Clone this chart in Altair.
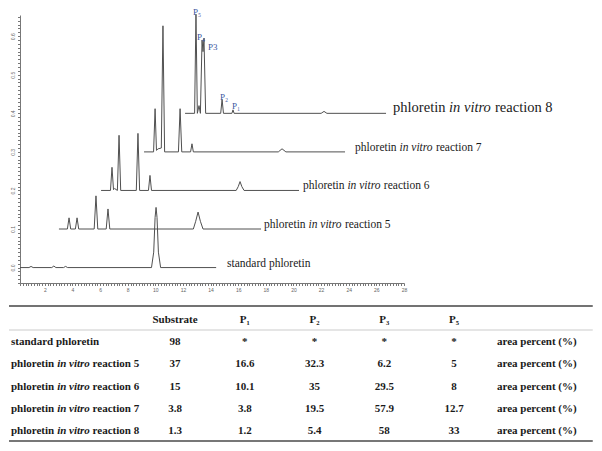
import altair as alt
import pandas as pd

# ---------------- chromatogram data (raw retention time [min], signal [AU]) -------------
trace_keys = ["std", "r5", "r6", "r7", "r8"]
x_offsets = [0, 3, 6, 9, 12]          # horizontal stacking offset (min)
y_offsets = [0.0, 0.1, 0.2, 0.3, 0.4]  # vertical stacking offset (AU)

std_t = [0.2, 0.85, 1.0, 1.15, 2.5, 2.65, 2.8, 3.35, 3.5, 3.65, 9.72, 9.88, 9.98, 10.05, 10.12, 10.22, 10.38, 14.4]
std_v = [0, 0, 0.003, 0, 0, 0.004, 0, 0, 0.003, 0, 0, 0.04, 0.13, 0.156, 0.13, 0.04, 0, 0]

r5_t = [0.02, 0.63, 0.75, 0.87, 1.21, 1.33, 1.45, 2.57, 2.70, 2.83, 3.44, 3.57, 3.70, 9.75, 9.92, 10.09, 10.26, 10.45, 14.65]
r5_v = [0, 0, 0.029, 0, 0, 0.029, 0, 0, 0.086, 0, 0, 0.052, 0, 0, 0.02, 0.044, 0.02, 0, 0]

r6_t = [0.07, 0.75, 0.86, 0.97, 1.05, 1.25, 1.37, 1.49, 2.62, 2.74, 2.86, 3.50, 3.61, 3.72, 9.85, 10.0, 10.13, 10.26, 10.42, 14.4]
r6_v = [0, 0, 0.06, 0.002, 0.005, 0, 0.143, 0, 0, 0.148, 0, 0, 0.039, 0, 0, 0.01, 0.023, 0.01, 0, 0]

r7_t = [0.18, 0.87, 0.98, 1.08, 1.2, 1.43, 1.55, 1.67, 2.67, 2.79, 2.91, 3.55, 3.65, 3.75, 9.9, 10.17, 10.45, 14.73]
r7_v = [0, 0, 0.112, 0.004, 0.008, 0.01, 0.327, 0, 0, 0.112, 0, 0, 0.021, 0, 0, 0.008, 0, 0]

r8_t = [0.15, 0.84, 0.94, 1.04, 1.16, 1.26, 1.38, 1.45, 1.52, 1.64, 2.73, 2.83, 2.93, 3.54, 3.62, 3.70, 10.0, 10.21, 10.42, 14.7]
r8_v = [0, 0, 0.257, 0.0, 0.02, 0.0, 0.19, 0.16, 0.195, 0, 0, 0.036, 0, 0, 0.009, 0, 0, 0.005, 0, 0]

trace_t = [std_t, r5_t, r6_t, r7_t, r8_t]
trace_v = [std_v, r5_v, r6_v, r7_v, r8_v]

# trace name labels (display retention-time where the label starts)
label_t = [15.19, 17.87, 20.69, 24.46, 27.21]
reaction_numbers = ["5", "6", "7", "8"]

# peak annotations on reaction 8
peak_names = ["P\u2085", "P\u2084", "P3", "P\u2082", "P\u2081"]
peak_t = [13.02, 13.31, 14.15, 14.97, 15.84]
peak_v = [0.662, 0.598, 0.572, 0.442, 0.419]

# ---------------- table data -------------
row_names = ["standard phloretin", "reaction 5", "reaction 6", "reaction 7", "reaction 8"]
col_headers = ["Substrate", "P\u2081", "P\u2082", "P\u2083", "P\u2085"]
substrate = ["98", "37", "15", "3.8", "1.3"]
p1 = ["*", "16.6", "10.1", "3.8", "1.2"]
p2 = ["*", "32.3", "35", "19.5", "5.4"]
p3 = ["*", "6.2", "29.5", "57.9", "58"]
p5 = ["*", "5", "8", "12.7", "33"]
unit_text = "area percent (%)"

# ---------------- build chromatogram -------------
rows = []
for k, dx, dy, ts, vs in zip(trace_keys, x_offsets, y_offsets, trace_t, trace_v):
    for t, v in zip(ts, vs):
        rows.append({"trace": k, "t": t + dx, "v": v + dy})
lines_df = pd.DataFrame(rows)

SERIF = "Liberation Serif"
x_scale = alt.Scale(domain=[0.2, 28], nice=False, zero=False)
y_scale = alt.Scale(domain=[-0.04, 0.655], nice=False, zero=False)
x_ticks = [round(0.2 * i, 1) for i in range(1, 141)]
y_ticks = [round(-0.04 + 0.01 * i, 2) for i in range(70)]

lines = alt.Chart(lines_df).mark_line(color="#505050", strokeWidth=1).encode(
    x=alt.X("t:Q", scale=x_scale, axis=alt.Axis(
        values=x_ticks, tickCount=400, title=None, grid=False, tickSize=2.5, tickWidth=1,
        tickColor="#777", domainColor="#777", domainWidth=1,
        labelExpr="abs(datum.value/2 - round(datum.value/2)) < 0.001 ? format(datum.value, 'd') : ''",
        labelFontSize=5, labelColor="#666", labelPadding=2, labelOverlap=False, labelFlush=False)),
    y=alt.Y("v:Q", scale=y_scale, axis=alt.Axis(
        values=y_ticks, tickCount=400, title=None, grid=False, tickSize=2.5, tickWidth=1,
        tickColor="#777", domainColor="#777", domainWidth=1,
        labelExpr="abs(datum.value*10 - round(datum.value*10)) < 0.001 ? format(datum.value, '.1f') : ''",
        labelFontSize=5, labelColor="#666", labelAngle=-90, labelAlign="center",
        labelBaseline="bottom", labelPadding=2, labelOverlap=False, labelFlush=False)),
    detail="trace:N",
)


def wid(em, size):
    return em / 1000.0 * size


# standard label
std_lab = alt.Chart(pd.DataFrame({"t": [label_t[0]], "v": [y_offsets[0]], "txt": ["standard phloretin"]})).mark_text(
    align="left", baseline="alphabetic", dy=-1, font=SERIF, fontSize=11.5, color="#1a1a1a"
).encode(x=alt.X("t:Q", scale=x_scale), y=alt.Y("v:Q", scale=y_scale), text="txt:N")


def reaction_labels(ts, vs, nums, size):
    df = pd.DataFrame({"t": ts, "v": vs, "r": ["reaction " + n for n in nums]})
    w1 = wid(3611 + 250, size)
    w2 = wid(2917 + 250, size)
    base = alt.Chart(df).encode(x=alt.X("t:Q", scale=x_scale), y=alt.Y("v:Q", scale=y_scale))
    a = base.mark_text(align="left", baseline="alphabetic", dy=-1, font=SERIF, fontSize=size,
                       color="#1a1a1a").encode(text=alt.value("phloretin"))
    b = base.mark_text(align="left", baseline="alphabetic", dy=-1, dx=w1, font=SERIF, fontSize=size,
                       fontStyle="italic", color="#1a1a1a").encode(text=alt.value("in vitro"))
    c = base.mark_text(align="left", baseline="alphabetic", dy=-1, dx=w1 + w2, font=SERIF, fontSize=size,
                       color="#1a1a1a").encode(text="r:N")
    return [a, b, c]


mid_labs = reaction_labels(label_t[1:4], y_offsets[1:4], reaction_numbers[:3], 11.5)
top_labs = reaction_labels(label_t[4:], y_offsets[4:], reaction_numbers[3:], 14.5)

peaks = alt.Chart(pd.DataFrame({"t": peak_t, "v": peak_v, "n": peak_names})).mark_text(
    align="center", baseline="middle", font=SERIF, fontSize=9, color="#3a55a0"
).encode(x=alt.X("t:Q", scale=x_scale), y=alt.Y("v:Q", scale=y_scale), text="n:N")

top = alt.layer(lines, std_lab, *mid_labs, *top_labs, peaks).properties(width=384, height=268)

# ---------------- build table -------------
row_keys = ["head", "s0", "s1", "s2", "s3", "s4"]
col_keys = ["name", "Substrate", "P1", "P2", "P3", "P5", "unit"]
tx_scale = alt.Scale(type="point", domain=col_keys, range=[85.25, 503.75], padding=0)
ty_scale = alt.Scale(type="point", domain=row_keys, range=[14, 125], padding=0)

cells = []
for ck, h in zip(col_keys[1:6], col_headers):
    cells.append({"row": "head", "col": ck, "txt": h})
for i, rk in enumerate(row_keys[1:]):
    for ck, vals in zip(col_keys[1:6], [substrate, p1, p2, p3, p5]):
        cells.append({"row": rk, "col": ck, "txt": vals[i]})
cells_df = pd.DataFrame(cells)

TX = alt.X("col:N", scale=tx_scale, axis=None)
TY = alt.Y("row:N", scale=ty_scale, axis=None)

cell_marks = alt.Chart(cells_df).mark_text(
    align="center", baseline="middle", font=SERIF, fontSize=11, fontWeight="bold", color="#1a1a1a"
).encode(x=TX, y=TY, text="txt:N")

unit_df = pd.DataFrame({"row": row_keys[1:], "col": ["unit"] * 5, "txt": [unit_text] * 5})
unit_marks = alt.Chart(unit_df).mark_text(
    align="left", baseline="middle", dx=-26.75, font=SERIF, fontSize=11, fontWeight="bold", color="#1a1a1a"
).encode(x=TX, y=TY, text="txt:N")

std_row = alt.Chart(pd.DataFrame({"row": ["s0"], "col": ["name"], "txt": [row_names[0]]})).mark_text(
    align="left", baseline="middle", dx=-94.25, font=SERIF, fontSize=11, fontWeight="bold", color="#1a1a1a"
).encode(x=TX, y=TY, text="txt:N")

rx_df = pd.DataFrame({"row": row_keys[2:], "col": ["name"] * 4, "txt": row_names[1:]})
bw1 = wid(3945 + 250, 11)
bw2 = wid(2973 + 250, 11)
rbase = alt.Chart(rx_df).encode(x=TX, y=TY)
ra = rbase.mark_text(align="left", baseline="middle", dx=-94.25, font=SERIF, fontSize=11,
                     fontWeight="bold", color="#1a1a1a").encode(text=alt.value("phloretin"))
rb = rbase.mark_text(align="left", baseline="middle", dx=-94.25 + bw1, font=SERIF, fontSize=11,
                     fontWeight="bold", fontStyle="italic", color="#1a1a1a").encode(text=alt.value("in vitro"))
rc = rbase.mark_text(align="left", baseline="middle", dx=-94.25 + bw1 + bw2, font=SERIF, fontSize=11,
                     fontWeight="bold", color="#1a1a1a").encode(text="txt:N")

rule_df_head = pd.DataFrame({"row": ["head"], "col": ["name"], "col2": ["unit"]})
rule_df_foot = pd.DataFrame({"row": ["s4"], "col": ["name"], "col2": ["unit"]})
top_rule = alt.Chart(rule_df_head).mark_rule(color="#444", strokeWidth=1.6, xOffset=-96.25, x2Offset=69,
                                               yOffset=-14).encode(x=TX, x2="col2", y=TY)
mid_rule = alt.Chart(rule_df_head).mark_rule(color="#aaa", strokeWidth=0.6, xOffset=-96.25, x2Offset=69,
                                               yOffset=10).encode(x=TX, x2="col2", y=TY)
bot_rule = alt.Chart(rule_df_foot).mark_rule(color="#777", strokeWidth=2, xOffset=-96.25, x2Offset=69,
                                               yOffset=10).encode(x=TX, x2="col2", y=TY)

table = alt.layer(top_rule, mid_rule, bot_rule, cell_marks, unit_marks, std_row, ra, rb, rc).properties(
    width=570, height=136)

chart = alt.vconcat(top, table, spacing=12).properties(padding=0).configure_view(stroke=None)
chart.save("out.html", embed_options={"renderer": "svg", "actions": False})
